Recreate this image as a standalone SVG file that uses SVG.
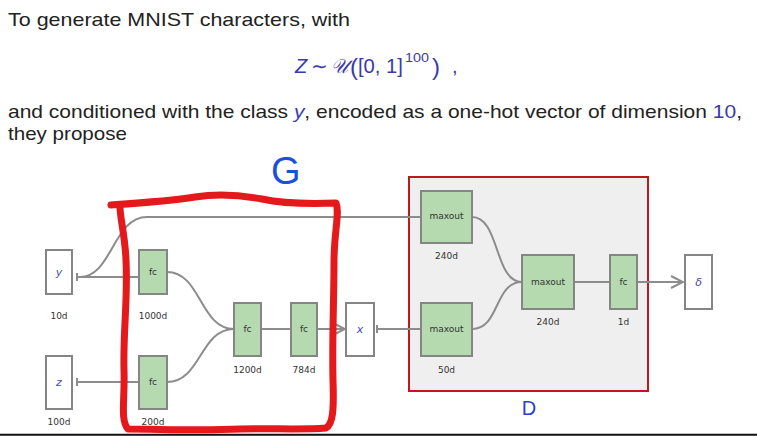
<svg xmlns="http://www.w3.org/2000/svg" width="757" height="436" viewBox="0 0 757 436">
<defs>
<style>
.body{font-family:"Liberation Sans",Arial,sans-serif;font-size:19px;fill:#222}
.math{font-family:"Liberation Sans",Arial,sans-serif;font-size:20px;fill:#3a3aa8}
.node{fill:#b5dab0;stroke:#858585;stroke-width:2}
.inp{fill:#ffffff;stroke:#858585;stroke-width:2}
.lbl{font-family:"DejaVu Sans",Verdana,sans-serif;font-size:9px;fill:#333;text-anchor:middle}
.var{font-family:"DejaVu Sans",Verdana,sans-serif;font-style:italic;font-size:11px;fill:#4a4ab0;text-anchor:middle}
.conn{fill:none;stroke:#8c8c8c;stroke-width:2}
</style>
<marker id="chev" markerUnits="userSpaceOnUse" markerWidth="14" markerHeight="14" refX="12" refY="6" orient="auto" viewBox="-1 -1 14 14">
<path d="M0,0 L12,6 L0,12" fill="none" stroke="#8c8c8c" stroke-width="2"/>
</marker>
</defs>
<rect width="757" height="436" fill="#ffffff"/>

<g id="intro-text">
<text class="body" x="8" y="26" font-size="20px" textLength="342" lengthAdjust="spacingAndGlyphs">To generate MNIST characters, with</text>
<text class="math" y="73"><tspan x="295" font-style="italic">Z</tspan><tspan x="311">∼</tspan><tspan x="331" font-family="'DejaVu Serif',serif" font-style="italic" textLength="17" lengthAdjust="spacingAndGlyphs">𝒰</tspan><tspan x="350" y="75" font-size="24px">(</tspan><tspan x="358" y="73" textLength="45" lengthAdjust="spacingAndGlyphs">[0, 1]</tspan><tspan x="405" y="62" font-size="13px" textLength="24" lengthAdjust="spacingAndGlyphs">100</tspan><tspan x="432" y="75" font-size="24px">)</tspan><tspan x="452" y="73">,</tspan></text>
<text class="body" x="8" y="118" textLength="734" lengthAdjust="spacingAndGlyphs">and conditioned with the class <tspan fill="#3a3aa8" font-style="italic">y</tspan>, encoded as a one-hot vector of dimension <tspan fill="#3a3aa8">10</tspan>,</text>
<text class="body" x="8" y="139.5" textLength="119" lengthAdjust="spacingAndGlyphs">they propose</text>
</g>

<g id="D-region">
<rect x="409" y="177" width="239" height="214" fill="#efefef" stroke="#c0161c" stroke-width="2"/>
<text x="529" y="415" font-family="'Liberation Sans',Arial,sans-serif" font-size="20px" fill="#2b3fc4" text-anchor="middle">D</text>
</g>

<g id="connectors">
<path class="conn" d="M77,273 V281 M77,277 H139"/>
<path class="conn" d="M80,277 C112,277 113,217 147,217 H421"/>
<path class="conn" d="M77,378 V386 M77,382 H139"/>
<path class="conn" d="M167,272 C201,272 200,329 234,329"/>
<path class="conn" d="M167,382 C201,382 200,329 234,329"/>
<path class="conn" d="M261,329 H291"/>
<path class="conn" d="M317,329 H345" marker-end="url(#chev)"/>
<path class="conn" d="M377,325 V333 M377,329 H421"/>
<path class="conn" d="M472,217 C500,217 494,282 522,282"/>
<path class="conn" d="M472,329 C500,329 494,282 522,282"/>
<path class="conn" d="M574,282 H610"/>
<path class="conn" d="M637,282 H683" marker-end="url(#chev)"/>
</g>

<g id="y-in"><rect class="inp" x="46" y="250" width="26" height="44"/><text class="var" x="59" y="276">y</text><text class="lbl" x="59" y="319">10d</text></g>
<g id="z-in"><rect class="inp" x="46" y="356" width="26" height="53"/><text class="var" x="59" y="386">z</text><text class="lbl" x="59" y="425">100d</text></g>
<g id="g-fc1"><rect class="node" x="139" y="250" width="28" height="44"/><text class="lbl" x="153" y="275">fc</text><text class="lbl" x="153" y="319">1000d</text></g>
<g id="g-fc2"><rect class="node" x="139" y="356" width="28" height="53"/><text class="lbl" x="153" y="385">fc</text><text class="lbl" x="153" y="425">200d</text></g>
<g id="g-fc3"><rect class="node" x="234" y="303" width="27" height="53"/><text class="lbl" x="247.5" y="332">fc</text><text class="lbl" x="247.5" y="373">1200d</text></g>
<g id="g-fc4"><rect class="node" x="291" y="303" width="26" height="53"/><text class="lbl" x="304" y="332">fc</text><text class="lbl" x="304" y="373">784d</text></g>
<g id="x-node"><rect class="inp" x="346" y="303" width="28" height="53"/><text class="var" x="360" y="333">x</text></g>
<g id="d-max1"><rect class="node" x="421" y="191" width="51" height="52"/><text class="lbl" x="446.5" y="219">maxout</text><text class="lbl" x="446.5" y="259">240d</text></g>
<g id="d-max2"><rect class="node" x="421" y="303" width="51" height="53"/><text class="lbl" x="446.5" y="332">maxout</text><text class="lbl" x="446.5" y="373">50d</text></g>
<g id="d-max3"><rect class="node" x="522" y="255" width="52" height="54"/><text class="lbl" x="548" y="285">maxout</text><text class="lbl" x="548" y="325">240d</text></g>
<g id="d-fc"><rect class="node" x="610" y="255" width="27" height="54"/><text class="lbl" x="623.5" y="285">fc</text><text class="lbl" x="623.5" y="325">1d</text></g>
<g id="delta-out"><rect class="inp" x="685" y="255" width="27" height="54"/><text class="var" x="698.5" y="286">δ</text></g>

<g id="G-annotation">
<path d="M111,205 C140,203 170,201 195,197 C215,194 240,195 262,199 C285,204 310,204 336,203 C340,212 334,232 334,262 C334,300 332,340 333,380 C334,410 333,424 326,428 C300,430 270,428 240,429 C200,431 160,429 128,429 C120,420 125,400 124,370 C123,330 128,300 126,260 C125,235 120,218 120,207" fill="none" stroke="#e3191b" stroke-width="7" stroke-linejoin="round" stroke-linecap="round"/>
<text x="271" y="184" font-family="'Liberation Sans',Arial,sans-serif" font-size="38px" fill="#1d50d8">G</text>
</g>

<line x1="0" y1="434.8" x2="757" y2="434.8" stroke="#111" stroke-width="2"/>
</svg>
